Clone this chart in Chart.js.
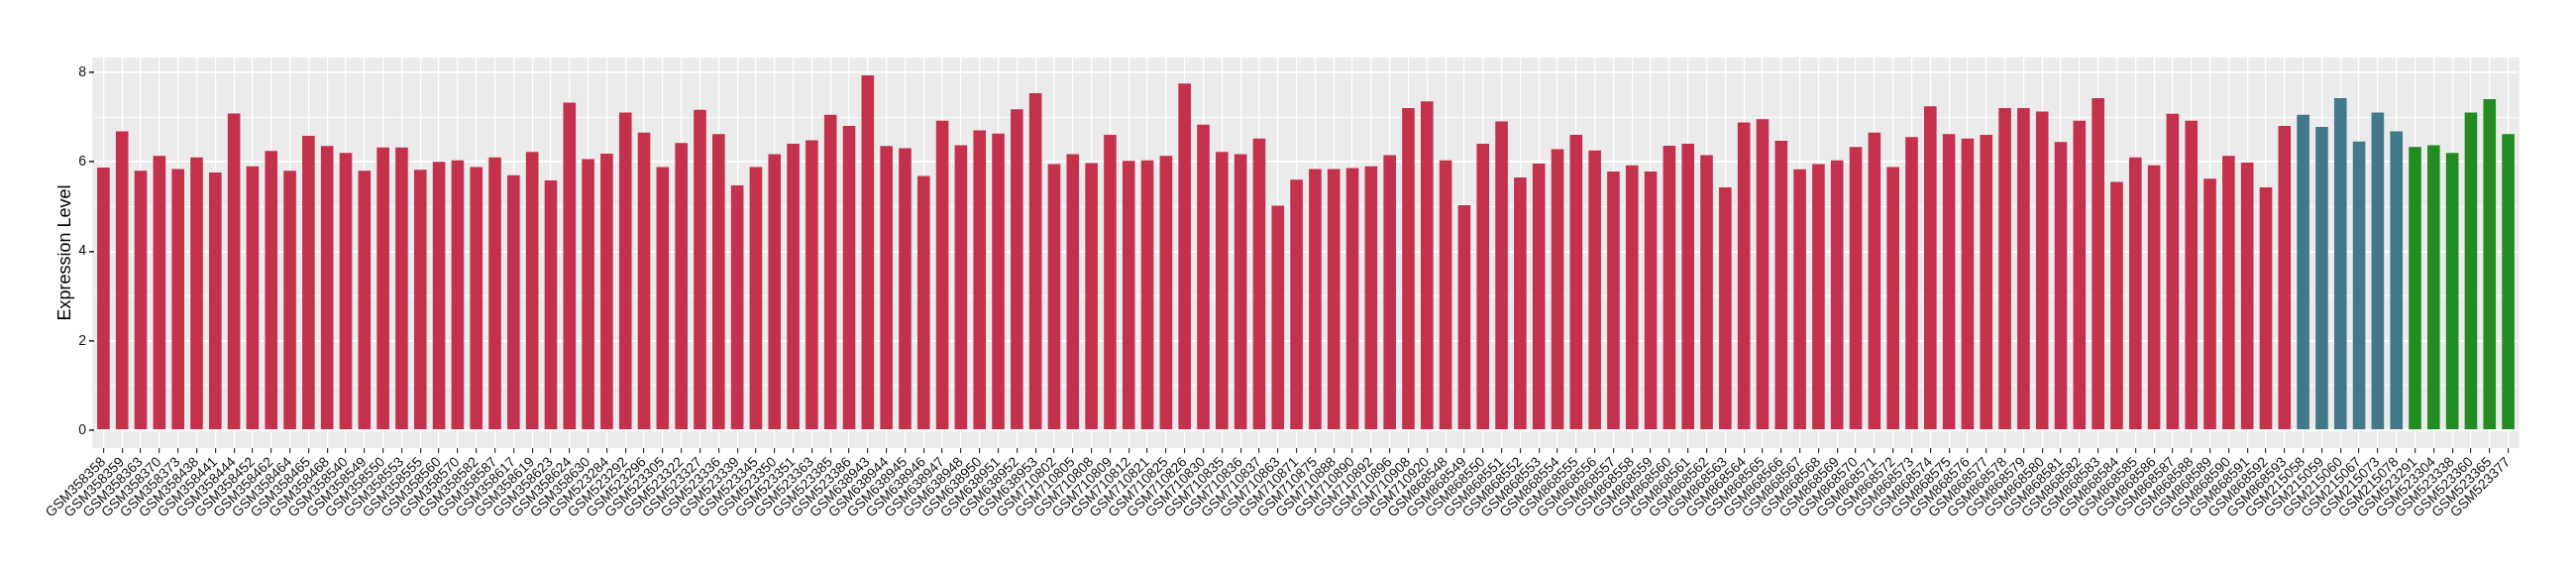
<!DOCTYPE html>
<html>
<head>
<meta charset="utf-8">
<script src="https://cdn.jsdelivr.net/npm/chart.js@4.4.1/dist/chart.umd.min.js"></script>
<style>
  html, body { margin: 0; padding: 0; background: #fff; }
  #wrap { width: 2600px; height: 580px; }
</style>
</head>
<body>
<div id="wrap"><canvas id="expression-chart"></canvas></div>
<script>
// sample ids per group
const redSamples = [
  "GSM358358", "GSM358359", "GSM358363", "GSM358370", "GSM358373", "GSM358438", "GSM358441",
  "GSM358444", "GSM358452", "GSM358462", "GSM358464", "GSM358465", "GSM358468", "GSM358540",
  "GSM358549", "GSM358550", "GSM358553", "GSM358555", "GSM358560", "GSM358570", "GSM358582",
  "GSM358587", "GSM358617", "GSM358619", "GSM358623", "GSM358624", "GSM358630",
  "GSM523284", "GSM523292", "GSM523296", "GSM523305", "GSM523322", "GSM523327", "GSM523336",
  "GSM523339", "GSM523345", "GSM523350", "GSM523351", "GSM523363", "GSM523385", "GSM523386",
  "GSM638943", "GSM638944", "GSM638945", "GSM638946", "GSM638947", "GSM638948", "GSM638950",
  "GSM638951", "GSM638952", "GSM638953",
  "GSM710802", "GSM710805", "GSM710808", "GSM710809", "GSM710812", "GSM710821", "GSM710825",
  "GSM710826", "GSM710830", "GSM710835", "GSM710836", "GSM710837", "GSM710863", "GSM710871",
  "GSM710875", "GSM710888", "GSM710890", "GSM710892", "GSM710896", "GSM710908", "GSM710920",
  "GSM868548", "GSM868549", "GSM868550", "GSM868551", "GSM868552", "GSM868553", "GSM868554",
  "GSM868555", "GSM868556", "GSM868557", "GSM868558", "GSM868559", "GSM868560", "GSM868561",
  "GSM868562", "GSM868563", "GSM868564", "GSM868565", "GSM868566", "GSM868567", "GSM868568",
  "GSM868569", "GSM868570", "GSM868571", "GSM868572", "GSM868573", "GSM868574", "GSM868575",
  "GSM868576", "GSM868577", "GSM868578", "GSM868579", "GSM868580", "GSM868581", "GSM868582",
  "GSM868583", "GSM868584", "GSM868585", "GSM868586", "GSM868587", "GSM868588", "GSM868589",
  "GSM868590", "GSM868591", "GSM868592", "GSM868593"
];
const redValues = [
  5.87, 6.68, 5.80, 6.13, 5.84, 6.10, 5.76, 7.08, 5.90, 6.24, 5.80, 6.58, 6.35, 6.20,
  5.80, 6.32, 6.32, 5.82, 6.00, 6.03, 5.88, 6.10, 5.70, 6.22, 5.58, 7.32, 6.06,
  6.18, 7.10, 6.65, 5.88, 6.42, 7.16, 6.62, 5.47, 5.88, 6.17, 6.40, 6.48, 7.05, 6.80,
  7.93, 6.35, 6.30, 5.68, 6.92, 6.37, 6.70, 6.63, 7.17, 7.53,
  5.95, 6.17, 5.97, 6.60, 6.02, 6.03, 6.13, 7.75, 6.83, 6.22, 6.17, 6.52, 5.02, 5.60,
  5.84, 5.84, 5.86, 5.90, 6.15, 7.20, 7.35,
  6.03, 5.03, 6.40, 6.90, 5.65, 5.96, 6.28, 6.60, 6.25, 5.78, 5.92, 5.78, 6.36, 6.40,
  6.15, 5.43, 6.88, 6.95, 6.47, 5.83, 5.95, 6.03, 6.33, 6.65, 5.88, 6.55, 7.24, 6.62,
  6.52, 6.60, 7.20, 7.20, 7.12, 6.44, 6.92, 7.42, 5.55, 6.10, 5.92, 7.07, 6.92, 5.62,
  6.13, 5.98, 5.43, 6.80
];
const blueSamples = ["GSM215058", "GSM215059", "GSM215060", "GSM215067", "GSM215073", "GSM215078"];
const blueValues = [7.05, 6.78, 7.42, 6.45, 7.10, 6.68];
const greenSamples = ["GSM523291", "GSM523304", "GSM523338", "GSM523360", "GSM523365", "GSM523377"];
const greenValues = [6.33, 6.37, 6.20, 7.10, 7.40, 6.62];
const yTickLabels = [0, 2, 4, 6, 8];

const RED = "#C3314A";
const BLUE = "#41788A";
const GREEN = "#228B22";

const labels = redSamples.concat(blueSamples, greenSamples);
const values = redValues.concat(blueValues, greenValues);
const colors = redSamples.map(() => RED)
  .concat(blueSamples.map(() => BLUE), greenSamples.map(() => GREEN));

// grey ggplot-style panel behind the grid
const panelBackground = {
  id: "panelBackground",
  beforeDraw(chart) {
    const { ctx, chartArea } = chart;
    const x = chart.scales.x;
    const pad = (x.getPixelForValue(1) - x.getPixelForValue(0)) * 0.1;
    ctx.save();
    ctx.fillStyle = "#EBEBEB";
    ctx.fillRect(chartArea.left - pad, chartArea.top, chartArea.width + 2 * pad, chartArea.height);
    ctx.restore();
  }
};

const isMajor = (v) => yTickLabels.includes(v);

new Chart(document.querySelector("#expression-chart").getContext("2d"), {
  type: "bar",
  data: {
    labels: labels,
    datasets: [{
      label: "Expression Level",
      data: values,
      backgroundColor: colors,
      borderWidth: 0,
      barPercentage: 0.67,
      categoryPercentage: 1
    }]
  },
  options: {
    responsive: true,
    maintainAspectRatio: false,
    animation: false,
    devicePixelRatio: 1,
    layout: { padding: { top: 58, right: 59, left: 0, bottom: 0 } },
    plugins: { legend: { display: false }, tooltip: { enabled: false } },
    scales: {
      x: {
        afterFit: (s) => { s.height = 128; },
        border: { display: false },
        grid: {
          offset: false,
          color: "#FFFFFF",
          lineWidth: 1.2,
          drawTicks: true,
          tickLength: 5,
          tickColor: "#333333"
        },
        ticks: {
          autoSkip: false,
          minRotation: 45,
          maxRotation: 45,
          padding: 1,
          color: "#111111",
          font: { family: "'Liberation Sans', Arial, sans-serif", size: 14 }
        }
      },
      y: {
        min: -0.4,
        max: 8.33,
        afterFit: (s) => { s.width = 95; },
        border: { display: false },
        grid: {
          color: "#FFFFFF",
          lineWidth: (c) => (isMajor(c.tick.value) ? 1.7 : 0.8),
          drawTicks: true,
          tickLength: 5,
          tickColor: (c) => (isMajor(c.tick.value) ? "#333333" : "rgba(0,0,0,0)")
        },
        ticks: {
          stepSize: 1,
          includeBounds: false,
          padding: 3,
          color: "#111111",
          font: { family: "'Liberation Sans', Arial, sans-serif", size: 14 },
          callback: (v) => (isMajor(v) ? v : "")
        },
        title: {
          display: true,
          text: "Expression Level",
          color: "#000000",
          padding: { top: 55, bottom: 0 },
          font: { family: "'Liberation Sans', Arial, sans-serif", size: 18 }
        }
      }
    }
  },
  plugins: [panelBackground]
});
</script>
</body>
</html>
